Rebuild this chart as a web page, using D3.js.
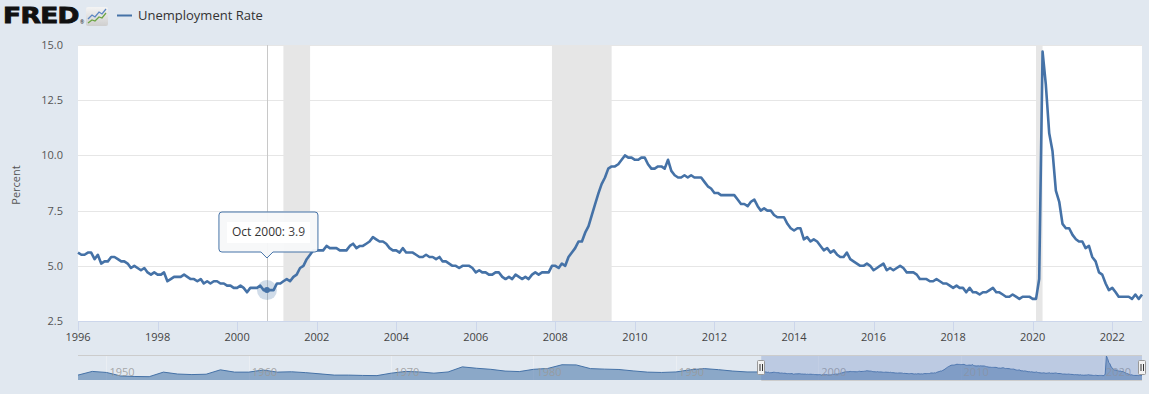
<!DOCTYPE html>
<html>
<head>
<meta charset="utf-8">
<script src="https://cdn.jsdelivr.net/npm/d3@7"></script>
<style>
  html, body { margin: 0; padding: 0; background: #e1e8f0; }
  svg { display: block; font-family: "Open Sans", sans-serif; }
</style>
</head>
<body>
<svg id="chart" width="1149" height="394"></svg>
<script>
// DATA

// monthly unemployment rate (percent), seasonally adjusted, from Jan 1996
var startYear = 1996;
var unrate = [
    5.6, 5.5, 5.5, 5.6, 5.6, 5.3, 5.5, 5.1, 5.2, 5.2, 5.4, 5.4, // 1996
    5.3, 5.2, 5.2, 5.1, 4.9, 5.0, 4.9, 4.8, 4.9, 4.7, 4.6, 4.7, // 1997
    4.6, 4.6, 4.7, 4.3, 4.4, 4.5, 4.5, 4.5, 4.6, 4.5, 4.4, 4.4, // 1998
    4.3, 4.4, 4.2, 4.3, 4.2, 4.3, 4.3, 4.2, 4.2, 4.1, 4.1, 4.0, // 1999
    4.0, 4.1, 4.0, 3.8, 4.0, 4.0, 4.0, 4.1, 3.9, 3.9, 3.9, 3.9, // 2000
    4.2, 4.2, 4.3, 4.4, 4.3, 4.5, 4.6, 4.9, 5.0, 5.3, 5.5, 5.7, // 2001
    5.7, 5.7, 5.7, 5.9, 5.8, 5.8, 5.8, 5.7, 5.7, 5.7, 5.9, 6.0, // 2002
    5.8, 5.9, 5.9, 6.0, 6.1, 6.3, 6.2, 6.1, 6.1, 6.0, 5.8, 5.7, // 2003
    5.7, 5.6, 5.8, 5.6, 5.6, 5.6, 5.5, 5.4, 5.4, 5.5, 5.4, 5.4, // 2004
    5.3, 5.4, 5.2, 5.2, 5.1, 5.0, 5.0, 4.9, 5.0, 5.0, 5.0, 4.9, // 2005
    4.7, 4.8, 4.7, 4.7, 4.6, 4.6, 4.7, 4.7, 4.5, 4.4, 4.5, 4.4, // 2006
    4.6, 4.5, 4.4, 4.5, 4.4, 4.6, 4.7, 4.6, 4.7, 4.7, 4.7, 5.0, // 2007
    5.0, 4.9, 5.1, 5.0, 5.4, 5.6, 5.8, 6.1, 6.1, 6.5, 6.8, 7.3, // 2008
    7.8, 8.3, 8.7, 9.0, 9.4, 9.5, 9.5, 9.6, 9.8, 10.0, 9.9, 9.9, // 2009
    9.8, 9.8, 9.9, 9.9, 9.6, 9.4, 9.4, 9.5, 9.5, 9.4, 9.8, 9.3, // 2010
    9.1, 9.0, 9.0, 9.1, 9.0, 9.1, 9.0, 9.0, 9.0, 8.8, 8.6, 8.5, // 2011
    8.3, 8.3, 8.2, 8.2, 8.2, 8.2, 8.2, 8.0, 7.8, 7.8, 7.7, 7.9, // 2012
    8.0, 7.7, 7.5, 7.6, 7.5, 7.5, 7.3, 7.2, 7.2, 7.2, 6.9, 6.7, // 2013
    6.6, 6.7, 6.7, 6.2, 6.3, 6.1, 6.2, 6.1, 5.9, 5.7, 5.8, 5.6, // 2014
    5.7, 5.5, 5.4, 5.4, 5.6, 5.3, 5.2, 5.1, 5.0, 5.0, 5.1, 5.0, // 2015
    4.8, 4.9, 5.0, 5.1, 4.8, 4.9, 4.8, 4.9, 5.0, 4.9, 4.7, 4.7, // 2016
    4.7, 4.6, 4.4, 4.4, 4.4, 4.3, 4.3, 4.4, 4.3, 4.2, 4.2, 4.1, // 2017
    4.0, 4.1, 4.0, 4.0, 3.8, 4.0, 3.8, 3.8, 3.7, 3.8, 3.8, 3.9, // 2018
    4.0, 3.8, 3.8, 3.7, 3.6, 3.6, 3.7, 3.6, 3.5, 3.6, 3.6, 3.6, // 2019
    3.5, 3.5, 4.4, 14.7, 13.2, 11.0, 10.2, 8.4, 7.9, 6.9, 6.7, 6.7, // 2020
    6.4, 6.2, 6.1, 6.1, 5.8, 5.9, 5.4, 5.2, 4.7, 4.6, 4.2, 3.9, // 2021
    4.0, 3.8, 3.6, 3.6, 3.6, 3.6, 3.5, 3.7, 3.5, 3.7            // 2022
];

// annual averages 1948-1995, only used for the navigator strip
var navStartYear = 1948;
var annualRates = [
    3.8, 5.9, 5.3, 3.3, 3.0, 2.9, 5.5, 4.4, 4.1, 4.3, 6.8, 5.5,
    5.5, 6.7, 5.5, 5.7, 5.2, 4.5, 3.8, 3.8, 3.6, 3.5, 4.9, 5.9,
    5.6, 4.9, 5.6, 8.5, 7.7, 7.1, 6.1, 5.8, 7.1, 7.6, 9.7, 9.6,
    7.5, 7.2, 7.0, 6.2, 5.5, 5.3, 5.6, 6.8, 7.5, 6.9, 6.1, 5.6
];

// recessions [start, end] as "yyyy-mm"
var recessions = [["2001-03", "2001-11"], ["2007-12", "2009-06"], ["2020-02", "2020-04"]];

var yTicks = [2.5, 5.0, 7.5, 10.0, 12.5, 15.0];
var xTickYears = [1996, 1998, 2000, 2002, 2004, 2006, 2008, 2010, 2012, 2014, 2016, 2018, 2020, 2022];
var navTickYears = [1950, 1960, 1970, 1980, 1990, 2000, 2010, 2020];

var seriesName = "Unemployment Rate";
var tooltipMonth = "2000-10"; // hovered point

// SETUP

var svg = d3.select("#chart");
var blue = "#4572a7";
var parseMonth = d3.timeParse("%Y-%m");

var data = unrate.map((v, i) => ({ date: new Date(startYear, i, 1), value: v }));
var navData = annualRates.map((v, i) => ({ date: new Date(navStartYear + i, 0, 1), value: v }))
    .concat(data);

var plotLeft = 78, plotRight = 1142, plotTop = 45, plotBottom = 321;

var x = d3.scaleTime()
    .domain([data[0].date, data[data.length - 1].date])
    .range([plotLeft, plotRight]);

var y = d3.scaleLinear()
    .domain([2.5, 15])
    .range([plotBottom, plotTop]);

// HEADER

svg.append("text")
    .attr("transform", "translate(3,23) scale(1.2,1)")
    .style("font-family", "'DejaVu Sans', sans-serif")
    .style("font-weight", "bold")
    .style("font-size", "22px")
    .style("letter-spacing", "-0.5px")
    .attr("fill", "#111")
    .attr("stroke", "#111")
    .attr("stroke-width", 0.9)
    .text("FRED");
svg.append("text")
    .attr("x", 80)
    .attr("y", 24)
    .style("font-size", "5px")
    .attr("fill", "#111")
    .text("®");

// little chart icon
let icon = svg.append("g").attr("transform", "translate(86,7)");
let iconGrad = svg.append("defs").append("linearGradient")
    .attr("id", "iconGrad")
    .attr("x1", "0%").attr("x2", "0%").attr("y1", "0%").attr("y2", "100%");
iconGrad.append("stop").attr("offset", "0%").attr("stop-color", "#f4f4f4");
iconGrad.append("stop").attr("offset", "100%").attr("stop-color", "#cfcfcf");
icon.append("rect")
    .attr("width", 22).attr("height", 19).attr("rx", 2)
    .attr("fill", "url(#iconGrad)");
icon.append("path")
    .attr("d", "M2,12 L6,8 L9,10 L13,5 L16,7 L20,2")
    .attr("fill", "none").attr("stroke", "#5b86c2").attr("stroke-width", 1.3);
icon.append("path")
    .attr("d", "M2,16 L6,13 L9,14 L13,10 L16,11 L20,6")
    .attr("fill", "none").attr("stroke", "#6da544").attr("stroke-width", 1.3);

// legend
svg.append("line")
    .attr("x1", 117).attr("x2", 132)
    .attr("y1", 15.5).attr("y2", 15.5)
    .attr("stroke", blue).attr("stroke-width", 2);
svg.append("text")
    .attr("x", 138)
    .attr("y", 20)
    .style("font-size", "13px")
    .attr("fill", "#333")
    .text(seriesName);

// PLOT AREA

svg.append("rect")
    .attr("x", plotLeft).attr("y", plotTop)
    .attr("width", plotRight - plotLeft).attr("height", plotBottom - plotTop)
    .attr("fill", "white");

// horizontal grid
svg.append("g")
    .selectAll("line")
    .data(yTicks.slice(1))
    .enter()
    .append("line")
    .attr("x1", plotLeft).attr("x2", plotRight)
    .attr("y1", d => Math.round(y(d)) + 0.5)
    .attr("y2", d => Math.round(y(d)) + 0.5)
    .attr("stroke", "#e6e6e6");

// recession bands
svg.append("g")
    .selectAll("rect")
    .data(recessions)
    .enter()
    .append("rect")
    .attr("x", d => x(parseMonth(d[0])))
    .attr("width", d => x(parseMonth(d[1])) - x(parseMonth(d[0])))
    .attr("y", plotTop)
    .attr("height", plotBottom - plotTop)
    .attr("fill", "#e6e6e6");

// y axis labels
svg.append("g")
    .selectAll("text")
    .data(yTicks)
    .enter()
    .append("text")
    .attr("x", 63)
    .attr("y", d => y(d) + 4)
    .attr("text-anchor", "end")
    .style("font-size", "11px")
    .attr("fill", "#555")
    .text(d => d3.format(".1f")(d));

svg.append("text")
    .attr("transform", "translate(20,185) rotate(-90)")
    .attr("text-anchor", "middle")
    .style("font-size", "11px")
    .attr("fill", "#555")
    .text("Percent");

// x axis
let xAxis = svg.append("g");
xAxis.append("line")
    .attr("x1", plotLeft).attr("x2", plotRight)
    .attr("y1", plotBottom + 0.5).attr("y2", plotBottom + 0.5)
    .attr("stroke", "#ccd6eb");
xAxis.selectAll(".tick")
    .data(xTickYears)
    .enter()
    .append("line")
    .attr("class", "tick")
    .attr("x1", d => Math.round(x(new Date(d, 0, 1))) + 0.5)
    .attr("x2", d => Math.round(x(new Date(d, 0, 1))) + 0.5)
    .attr("y1", plotBottom).attr("y2", plotBottom + 10)
    .attr("stroke", "#ccd6eb");
xAxis.selectAll(".label")
    .data(xTickYears)
    .enter()
    .append("text")
    .attr("class", "label")
    .attr("x", d => x(new Date(d, 0, 1)))
    .attr("y", 341)
    .attr("text-anchor", "middle")
    .style("font-size", "11px")
    .attr("fill", "#444")
    .text(d => d);

// crosshair at hovered point
let hovered = data.find(d => +d.date == +parseMonth(tooltipMonth));
let hx = x(hovered.date), hy = y(hovered.value);
svg.append("line")
    .attr("x1", Math.round(hx) + 0.5).attr("x2", Math.round(hx) + 0.5)
    .attr("y1", plotTop).attr("y2", plotBottom)
    .attr("stroke", "#c8c8c8");

// series line
svg.append("path")
    .datum(data)
    .attr("d", d3.line().x(d => x(d.date)).y(d => y(d.value)))
    .attr("fill", "none")
    .attr("stroke", blue)
    .attr("stroke-width", 2.6)
    .attr("stroke-linejoin", "round");

// hover halo + marker
svg.append("circle")
    .attr("cx", hx).attr("cy", hy).attr("r", 10)
    .attr("fill", blue).attr("fill-opacity", 0.25);
svg.append("circle")
    .attr("cx", hx).attr("cy", hy).attr("r", 3)
    .attr("fill", blue);

// TOOLTIP

let tipW = 99, tipH = 40, tipLeft = hx - 48, tipTop = 212, r = 3;
let tipBottom = tipTop + tipH;
let tipPath = [
    "M", tipLeft + r, tipTop,
    "L", tipLeft + tipW - r, tipTop,
    "Q", tipLeft + tipW, tipTop, tipLeft + tipW, tipTop + r,
    "L", tipLeft + tipW, tipBottom - r,
    "Q", tipLeft + tipW, tipBottom, tipLeft + tipW - r, tipBottom,
    "L", hx + 6, tipBottom,
    "L", hx, tipBottom + 6,
    "L", hx - 6, tipBottom,
    "L", tipLeft + r, tipBottom,
    "Q", tipLeft, tipBottom, tipLeft, tipBottom - r,
    "L", tipLeft, tipTop + r,
    "Q", tipLeft, tipTop, tipLeft + r, tipTop, "Z"
].join(" ");

svg.append("path")
    .attr("d", tipPath)
    .attr("fill", "#f7f8f9")
    .attr("fill-opacity", 0.95)
    .attr("stroke", blue)
    .attr("stroke-width", 1);
svg.append("rect")
    .attr("x", tipLeft + 8).attr("y", tipTop + 10)
    .attr("width", tipW - 16).attr("height", 21)
    .attr("fill", "white");
let tipText = svg.append("text")
    .attr("x", tipLeft + 13)
    .attr("y", 236)
    .style("font-size", "12px")
    .attr("fill", "#333");
tipText.append("tspan").text(d3.timeFormat("%b %Y")(hovered.date) + ": ");
tipText.append("tspan").attr("fill", "#444").text(d3.format(".1f")(hovered.value));

// NAVIGATOR

var navTop = 355, navBottom = 380;
var navX = d3.scaleTime()
    .domain([new Date(navStartYear, 0, 1), data[data.length - 1].date])
    .range([plotLeft, plotRight]);
var navY = d3.scaleLinear()
    .domain([1, 14.7])
    .range([navBottom, navTop + 1]);

let nav = svg.append("g");

nav.selectAll(".navgrid")
    .data(navTickYears)
    .enter()
    .append("line")
    .attr("class", "navgrid")
    .attr("x1", d => Math.round(navX(new Date(d, 0, 1))) + 0.5)
    .attr("x2", d => Math.round(navX(new Date(d, 0, 1))) + 0.5)
    .attr("y1", navTop).attr("y2", navBottom)
    .attr("stroke", "#eaeef3");

nav.append("path")
    .datum(navData)
    .attr("d", d3.area().x(d => navX(d.date)).y0(navBottom).y1(d => navY(d.value)))
    .attr("fill", blue)
    .attr("fill-opacity", 0.55);
nav.append("path")
    .datum(navData)
    .attr("d", d3.line().x(d => navX(d.date)).y(d => navY(d.value)))
    .attr("fill", "none")
    .attr("stroke", blue)
    .attr("stroke-width", 1);

nav.selectAll(".navlabel")
    .data(navTickYears)
    .enter()
    .append("text")
    .attr("class", "navlabel")
    .attr("x", d => navX(new Date(d, 0, 1)) + 3)
    .attr("y", 376)
    .style("font-size", "11px")
    .attr("fill", "#999")
    .attr("fill-opacity", 0.85)
    .text(d => d);

// selected range mask
let maskLeft = navX(data[0].date), maskRight = navX(data[data.length - 1].date);
nav.append("rect")
    .attr("x", maskLeft).attr("y", navTop)
    .attr("width", maskRight - maskLeft).attr("height", navBottom - navTop)
    .attr("fill", "rgb(102,133,194)")
    .attr("fill-opacity", 0.3);

nav.append("path")
    .attr("d", "M" + plotLeft + "," + (navTop + 0.5) + " L" + plotRight + "," + (navTop + 0.5) +
        " M" + maskLeft + "," + (navBottom + 0.5) + " L" + maskRight + "," + (navBottom + 0.5))
    .attr("fill", "none")
    .attr("stroke", "#cccccc");

// handles
[maskLeft, maskRight].forEach(hxPos => {
    let h = nav.append("g").attr("transform", "translate(" + Math.round(hxPos) + ",0)");
    h.append("rect")
        .attr("x", -3.5).attr("y", 360.5)
        .attr("width", 7).attr("height", 14).attr("rx", 1)
        .attr("fill", "#f2f2f2")
        .attr("stroke", "#999");
    h.append("path")
        .attr("d", "M-1,364 L-1,371 M1.5,364 L1.5,371")
        .attr("stroke", "#333")
        .attr("stroke-width", 1);
});
</script>
</body>
</html>
